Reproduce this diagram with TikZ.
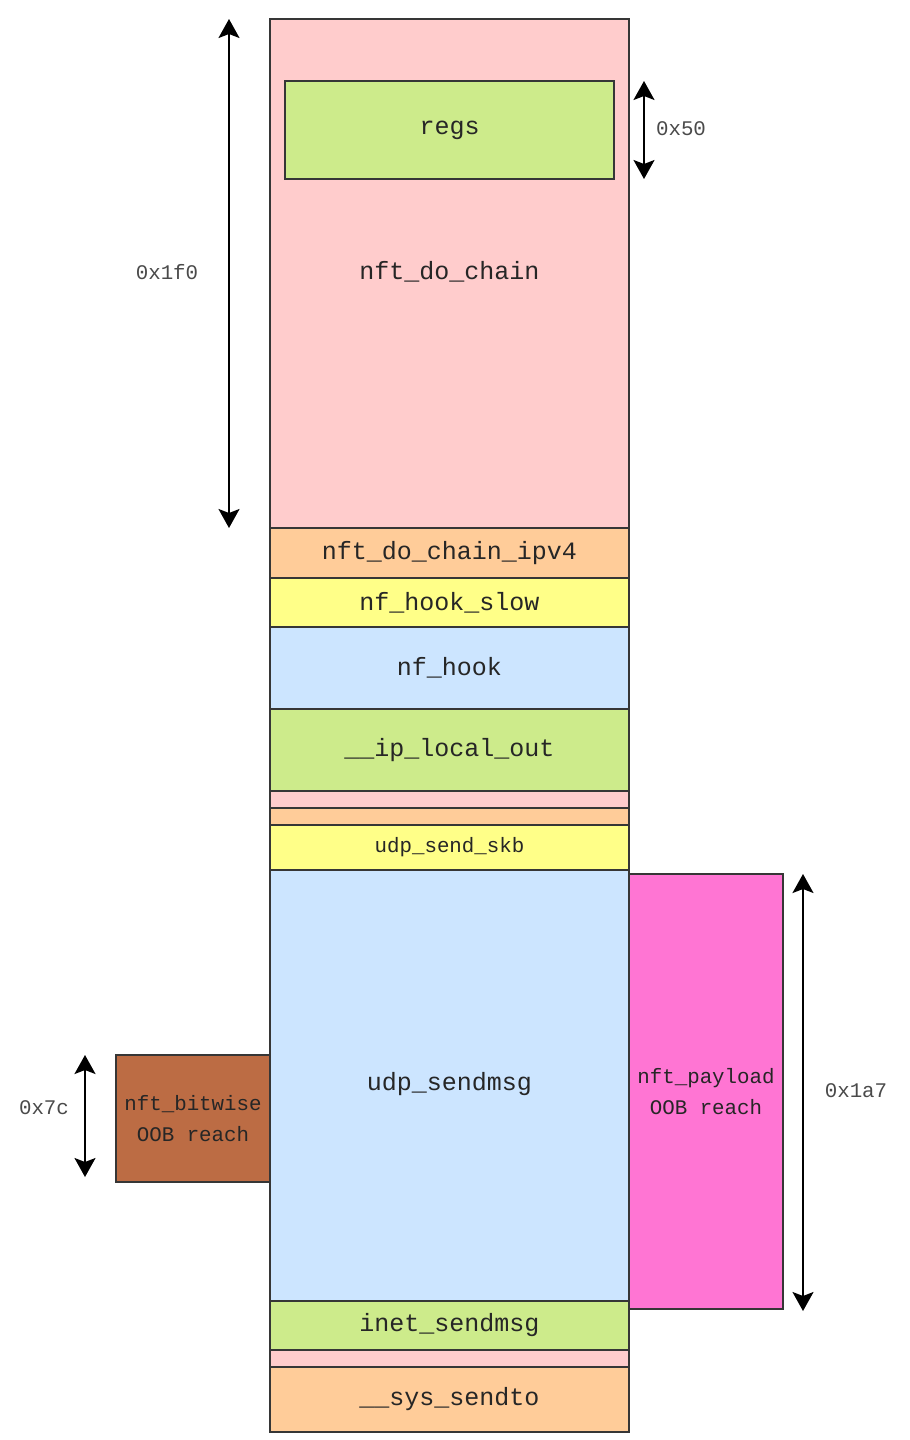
\documentclass[tikz,border=0pt]{standalone}
\usepackage{fontspec}
\newfontfamily\monof{Liberation Mono}
\usetikzlibrary{arrows.meta}
\definecolor{cpink}{HTML}{FFCCCC}
\definecolor{corange}{HTML}{FFCC99}
\definecolor{cyellow}{HTML}{FFFF88}
\definecolor{cblue}{HTML}{CCE5FF}
\definecolor{cgreen}{HTML}{CDEB8B}
\definecolor{cmagenta}{HTML}{FF75D3}
\definecolor{cbrown}{HTML}{BC6C44}
\definecolor{cborder}{HTML}{363636}
\definecolor{ctext}{HTML}{262626}
\definecolor{cdim}{HTML}{4A4A4A}
\begin{document}
\begin{tikzpicture}[x=1pt,y=-1pt,
  frame/.style={draw=cborder, line width=1.6pt, rectangle, inner sep=0pt, text=ctext,
    font=\monof\fontsize{25}{30}\selectfont},
  colbox/.style={frame, minimum width=359pt},
  smalltext/.style={font=\monof\fontsize{20.8}{31}\selectfont, align=center},
  tiphead/.style={},
  dimarrow/.style={black, line width=2pt,
    {Stealth[length=19pt,width=21pt,inset=4pt]}-{Stealth[length=19pt,width=21pt,inset=4pt]}},
  dimlabel/.style={text=cdim, inner sep=0pt, font=\monof\fontsize{20.8}{25}\selectfont}]
\useasboundingbox (0,0) rectangle (910,1440);

% main column
\node[colbox, fill=cpink, minimum height=509pt] (chain) at (449.5,273.5) {};
\node[text=ctext, font=\monof\fontsize{25}{30}\selectfont] (chaintxt) at (449.5,272) {nft\_do\_chain};
\node[frame, fill=cgreen, minimum width=329pt, minimum height=98pt] (regs) at (449.5,130) {regs};
\node[colbox, fill=corange, minimum height=50pt] (ipv4) at (449.5,553) {nft\_do\_chain\_ipv4};
\node[colbox, fill=cyellow, minimum height=49pt] (slow) at (449.5,602.5) {nf\_hook\_slow};
\node[colbox, fill=cblue, minimum height=82pt] (hook) at (449.5,668) {nf\_hook};
\node[colbox, fill=cgreen, minimum height=82pt] (iplo) at (449.5,750) {\_\_ip\_local\_out};
\node[colbox, fill=cpink, minimum height=17pt] (gap1) at (449.5,799.5) {};
\node[colbox, fill=corange, minimum height=17pt] (gap2) at (449.5,816.5) {};
\node[colbox, fill=cyellow, minimum height=45pt, smalltext] (skb) at (449.5,847.5) {udp\_send\_skb};
\node[colbox, fill=cblue, minimum height=431pt] (udpmsg) at (449.5,1085.5) {};
\node[text=ctext, font=\monof\fontsize{25}{30}\selectfont] (udpmsgtxt) at (449.5,1084) {udp\_sendmsg};
\node[colbox, fill=cgreen, minimum height=49pt] (inet) at (449.5,1325.5) {inet\_sendmsg};
\node[colbox, fill=cpink, minimum height=17pt] (gap3) at (449.5,1358.5) {};
\node[colbox, fill=corange, minimum height=65pt] (sendto) at (449.5,1399.5) {\_\_sys\_sendto};

% side boxes
\node[frame, fill=cmagenta, minimum width=154pt, minimum height=435pt, smalltext] (payload) at (706,1091.5) {nft\_payload\\OOB reach};
\node[frame, fill=cbrown, minimum width=154pt, minimum height=127pt, smalltext] (bitwise) at (193,1118.5) {nft\_bitwise\\OOB reach};

% dimension arrows
\coordinate (a1t) at (229,19);
\coordinate (a1b) at (229,528);
\draw[dimarrow] (a1t) -- (a1b);
\node[dimlabel] (l1) at (167,272) {0x1f0};

\coordinate (a2t) at (644,81);
\coordinate (a2b) at (644,179);
\draw[dimarrow] (a2t) -- (a2b);
\node[dimlabel] (l2) at (681,129) {0x50};

\coordinate (a3t) at (85,1055);
\coordinate (a3b) at (85,1177);
\draw[dimarrow] (a3t) -- (a3b);
\node[dimlabel] (l3) at (44,1108) {0x7c};

\coordinate (a4t) at (803,874);
\coordinate (a4b) at (803,1311);
\draw[dimarrow] (a4t) -- (a4b);
\node[dimlabel] (l4) at (856,1091) {0x1a7};
\end{tikzpicture}
\end{document}
